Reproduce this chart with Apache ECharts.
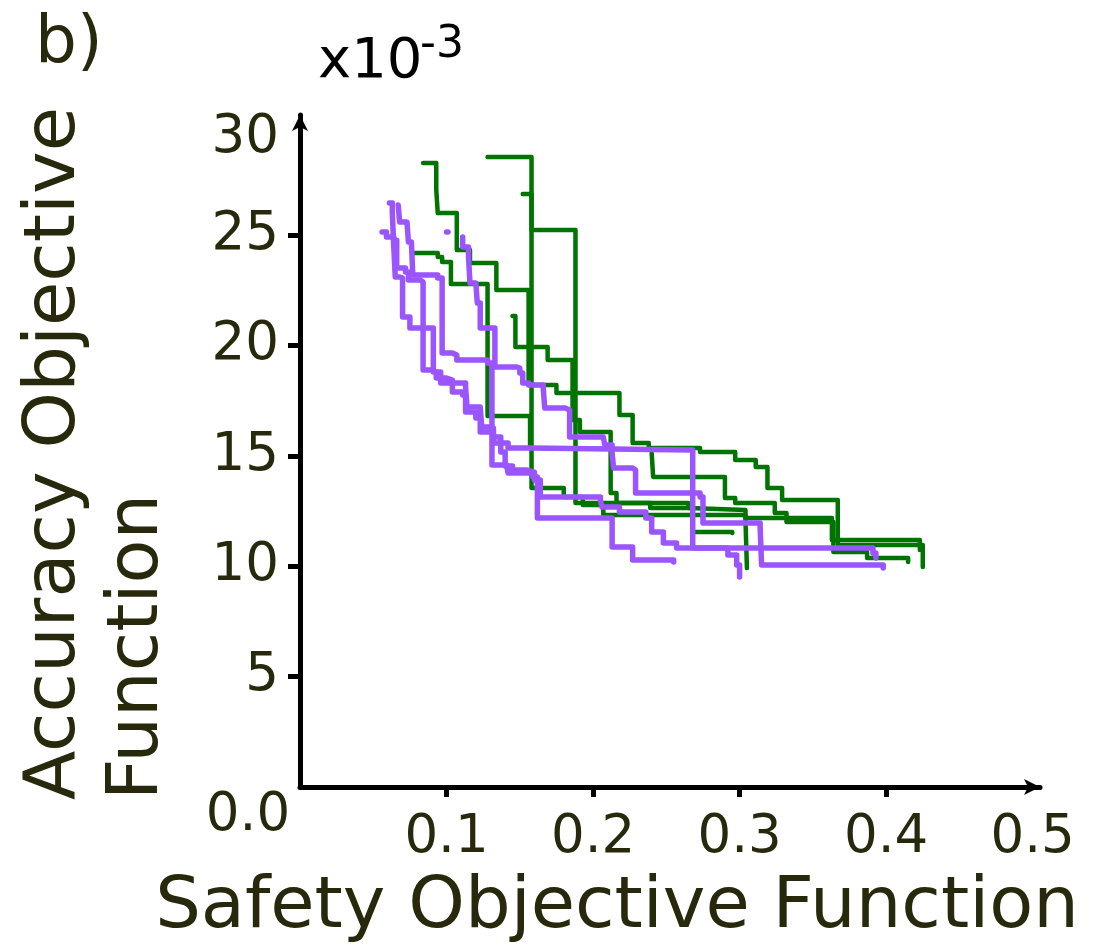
<!DOCTYPE html>
<html>
<head>
<meta charset="utf-8">
<title>Pareto fronts</title>
<script src="https://cdn.jsdelivr.net/npm/echarts@6/dist/echarts.min.js"></script>
<style>
  html, body { margin: 0; padding: 0; background: #fff; }
  #chart { width: 1094px; height: 945px; }
</style>
</head>
<body>
<div id="chart"></div>
<script>
// step fronts, x = safety objective, y = accuracy objective (x10^-3)
var green1 = [[0.084, 28.27], [0.093, 27.05], [0.094, 26.01], [0.107, 24.33], [0.116, 23.74], [0.134, 22.52],
    [0.156, 18.21], [0.175, 17.85], [0.218, 16.86], [0.227, 15.59], [0.238, 15.36], [0.273, 15.18],
    [0.297, 14.82], [0.311, 14.50], [0.319, 13.55], [0.329, 13.00], [0.367, 10.97], [0.425, 9.97]];
var green2 = [[0.128, 28.55], [0.158, 25.24], [0.188, 12.87], [0.239, 12.64], [0.266, 12.55], [0.304, 12.19],
    [0.363, 11.19], [0.423, 10.74]];
var green3 = [[0.152, 26.87], [0.158, 13.55], [0.180, 13.14], [0.193, 12.78], [0.207, 12.32], [0.304, 12.10],
    [0.305, 9.92]];
var green4 = [[0.077, 24.20], [0.094, 24.01], [0.097, 23.79], [0.103, 22.79], [0.128, 16.81], [0.157, 15.41]];
var green5 = [[0.145, 21.34], [0.147, 19.94], [0.169, 19.35], [0.186, 16.63], [0.191, 16.09], [0.212, 13.32],
    [0.216, 12.87], [0.265, 12.64], [0.268, 11.55], [0.295, 11.51]];
var green6 = [[0.240, 15.13], [0.241, 14.05], [0.290, 13.09], [0.297, 12.87], [0.324, 12.42], [0.332, 12.01],
    [0.364, 10.65], [0.387, 10.38], [0.415, 10.19]];

var purple1 = [[0.061, 26.46], [0.063, 26.01], [0.064, 24.47], [0.065, 23.11], [0.068, 23.06], [0.070, 22.38],
    [0.070, 21.30], [0.075, 20.80], [0.091, 18.80], [0.096, 18.31], [0.113, 18.12], [0.114, 17.22],
    [0.123, 17.17], [0.124, 16.31], [0.130, 16.27], [0.132, 15.59], [0.142, 15.36], [0.157, 15.27],
    [0.268, 10.83], [0.292, 10.51], [0.298, 10.06], [0.300, 9.52]];
var purple2 = [[0.067, 26.37], [0.068, 25.60], [0.073, 25.60], [0.074, 24.69], [0.076, 24.65], [0.077, 23.20],
    [0.094, 23.06], [0.097, 19.66], [0.104, 19.57], [0.107, 19.35], [0.128, 19.21], [0.131, 14.59],
    [0.141, 14.50], [0.142, 14.23], [0.159, 14.05], [0.162, 13.77], [0.162, 12.19], [0.213, 12.10],
    [0.213, 10.87], [0.227, 10.29], [0.255, 10.19]];
var purple3 = [[0.056, 25.15], [0.059, 24.92], [0.064, 24.78], [0.066, 23.52], [0.072, 23.34], [0.074, 22.97],
    [0.082, 22.88], [0.084, 18.89], [0.090, 18.80], [0.093, 18.53], [0.100, 18.44], [0.104, 17.90],
    [0.111, 17.76], [0.113, 16.99], [0.120, 16.72], [0.123, 16.09], [0.132, 15.86], [0.137, 15.18],
    [0.140, 14.54], [0.145, 14.36], [0.155, 14.27], [0.160, 13.91], [0.164, 13.14], [0.205, 13.00],
    [0.206, 12.69], [0.218, 12.46], [0.236, 12.19], [0.240, 11.55], [0.248, 11.06], [0.257, 10.83],
    [0.391, 10.60], [0.393, 10.38]];
var purple4 = [[0.111, 24.92], [0.111, 24.47], [0.115, 24.01], [0.116, 22.84], [0.120, 22.75], [0.121, 21.93],
    [0.123, 21.48], [0.123, 20.80], [0.133, 20.71], [0.133, 19.03], [0.148, 18.98], [0.150, 18.76],
    [0.152, 18.31], [0.156, 18.21], [0.166, 18.08], [0.167, 17.17], [0.181, 17.08], [0.184, 15.86],
    [0.207, 15.81], [0.208, 15.50], [0.213, 15.13], [0.214, 14.45], [0.227, 14.36], [0.229, 13.32],
    [0.273, 13.14], [0.275, 11.96], [0.314, 11.78], [0.315, 10.06], [0.398, 9.92]];
var purpleDot = [[0.100, 25.15], [0.101, 25.15]];

var greenFronts = [green1, green2, green3, green4, green5, green6];
var purpleFronts = [purple1, purple2, purple3, purple4, purpleDot];

var xTicks = [0.1, 0.2, 0.3, 0.4];
var xLabels = [0.1, 0.2, 0.3, 0.4, 0.5];
var yTicks = [5, 10, 15, 20, 25];
var yLabels = [5, 10, 15, 20, 25, 29.4];   // the "30" sits a little under its value

var FONT = '"DejaVu Sans", sans-serif';
var OLIVE = '#28290c';
var GREEN = '#007400';
var PURPLE = '#9a55ff';

var chart = echarts.init(document.getElementById('chart'));

var series = [];
greenFronts.forEach(function (d) {
    series.push({
        type: 'line', data: d, step: 'end', symbol: 'none', silent: true, z: 2,
        lineStyle: { color: GREEN, width: 4.5, cap: 'round', join: 'round' }
    });
});
purpleFronts.forEach(function (d) {
    series.push({
        type: 'line', data: d, step: 'end', symbol: 'none', silent: true, z: 3,
        lineStyle: { color: PURPLE, width: 5.5, cap: 'round', join: 'round' }
    });
});

var option = {
    animation: false,
    backgroundColor: '#fff',
    grid: { left: 300, right: 54, top: 115, bottom: 158 },
    xAxis: {
        type: 'value', min: 0, max: 0.505,
        splitLine: { show: false },
        axisLine: {
            show: true, onZero: false,
            lineStyle: { color: '#000', width: 5 },
            symbol: ['none', 'arrow'], symbolSize: [12, 16]
        },
        axisTick: {
            show: true, inside: false, length: 10, customValues: xTicks,
            lineStyle: { color: '#000', width: 5 }
        },
        axisLabel: {
            customValues: xLabels, margin: 25,
            fontFamily: FONT, fontSize: 53, color: OLIVE,
            formatter: function (v) { return v.toFixed(1); }
        }
    },
    yAxis: {
        type: 'value', min: 0, max: 30.45,
        splitLine: { show: false },
        axisLine: {
            show: true, onZero: false,
            lineStyle: { color: '#000', width: 5 },
            symbol: ['none', 'arrow'], symbolSize: [12, 16]
        },
        axisTick: {
            show: true, inside: false, length: 12, customValues: yTicks,
            lineStyle: { color: '#000', width: 5 }
        },
        axisLabel: {
            customValues: yLabels, margin: 21,
            fontFamily: FONT, fontSize: 53, color: OLIVE,
            formatter: function (v) { return v > 29 ? '30' : String(v); }
        }
    },
    graphic: [
        {
            type: 'text', left: 35, top: 12,
            style: { text: 'b)', font: '66px ' + FONT, fill: OLIVE }
        },
        {
            type: 'text', x: 318, y: 62,
            style: { text: 'x10', font: '56px ' + FONT, fill: '#000', align: 'left', verticalAlign: 'middle' }
        },
        {
            type: 'text', x: 420, y: 46,
            style: { text: '-3', font: '44px ' + FONT, fill: '#000', align: 'left', verticalAlign: 'middle' }
        },
        {
            type: 'text', x: 248, y: 816,
            style: { text: '0.0', font: '53px ' + FONT, fill: OLIVE, align: 'center', verticalAlign: 'middle' }
        },
        {
            type: 'text', x: 617, y: 908,
            style: { text: 'Safety Objective Function', font: '72px ' + FONT, fill: OLIVE,
                     align: 'center', verticalAlign: 'middle' }
        },
        {
            type: 'text', x: 14, y: 800, rotation: Math.PI / 2,
            style: { text: 'Accuracy Objective\nFunction', font: '72px ' + FONT, fill: OLIVE,
                     align: 'left', verticalAlign: 'top', lineHeight: 83 }
        }
    ],
    series: series
};

chart.setOption(option);
</script>
</body>
</html>
